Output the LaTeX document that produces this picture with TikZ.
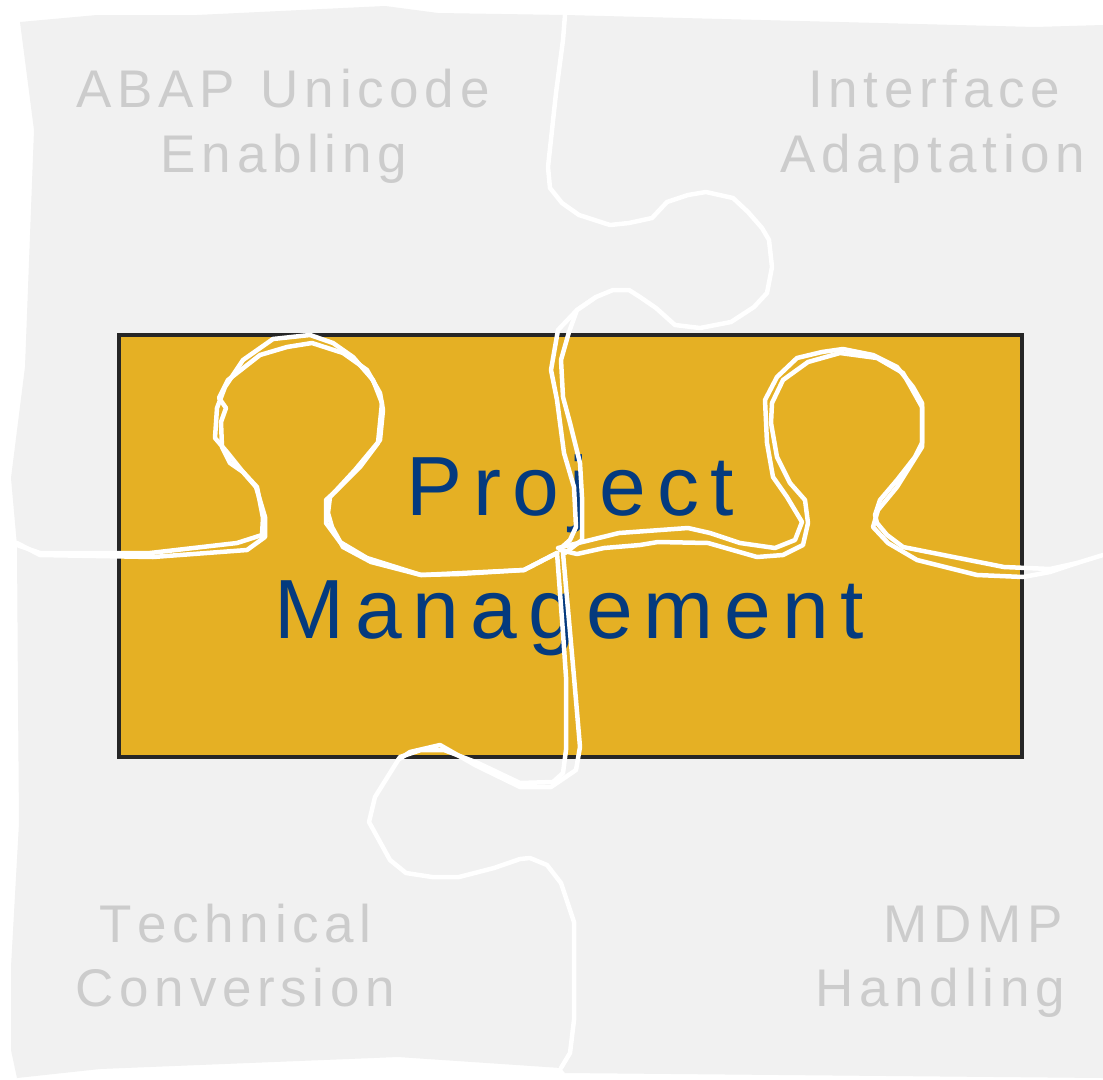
\documentclass[tikz,border=0pt]{standalone}
\usepackage{fontspec}
\setmainfont{Liberation Sans}
\definecolor{bggray}{HTML}{F1F1F1}
\definecolor{gold}{HTML}{E5B024}
\definecolor{border}{HTML}{262626}
\definecolor{txtgray}{HTML}{CCCCCC}
\definecolor{navy}{HTML}{043A7E}
\newdimen\lsp
\def\spaced#1{\spacedi#1\relax\relax}
\def\spacedi#1#2{#1\ifx#2\relax\else\kern\lsp\expandafter\spacedi\expandafter#2\fi}
\newcommand\grayfont{\fontsize{53}{60}\selectfont\lsp=5.7pt\relax}
\newcommand\bluefont{\fontsize{84}{96}\selectfont\lsp=11pt\relax}
\tikzset{
  graytext/.style={text=txtgray, font=\grayfont, inner sep=0pt, anchor=base},
  bluetext/.style={text=navy, font=\bluefont, inner sep=0pt, anchor=base},
  cutline/.style={draw=white, line width=4.5pt, line join=round, line cap=round},
}
\begin{document}
\begin{tikzpicture}[x=1pt,y=-1pt]
\useasboundingbox (0,0) rectangle (1103,1079);
\fill[white] (0,0) rectangle (1103,1079);
% puzzle background
\fill[bggray] (20,22) -- (97,15) -- (197,15) -- (385,6) -- (438,13) -- (565,15) -- (1035,27) -- (1103,25)
  -- (1103,1078) -- (565,1073) -- (561,1068) -- (398,1057) -- (100,1069) -- (17,1078) -- (11,1050)
  -- (11,967) -- (19,823) -- (18,700) -- (17,545) -- (11,478) -- (25,367) -- (34,130) -- cycle;
% central box
\draw[fill=gold, draw=border, line width=4.5pt] (119,335) rectangle (1022,757);
% texts
\node[graytext] (t1a) at (283,107) {\spaced{ABAP~Unicode}};
\node[graytext] (t1b) at (284,172) {\spaced{Enabling}};
\node[graytext] (t2a) at (934,107) {\spaced{Interface}};
\node[graytext] (t2b) at (933,172) {\spaced{Adaptation}};
\node[graytext] (t3a) at (235.5,942) {\spaced{Technical}};
\node[graytext] (t3b) at (235.5,1006) {\spaced{Conversion}};
\node[graytext, anchor=base east] (t4a) at (1063,942) {\spaced{MDMP}};
\node[graytext, anchor=base east] (t4b) at (1065,1006) {\spaced{Handling}};
\node[bluetext] (pm1) at (570,515) {\spaced{Project}};
\node[bluetext] (pm2) at (569,638) {\spaced{Management}};
% horizontal cut, left half
\draw[cutline] (17,545) -- (40,553) -- (150,553) -- (237,543) -- (262,535) -- (263,518) -- (257,487)
  -- (243,472) -- (227,452) -- (215,438) -- (217,408) -- (225,387) -- (243,360) -- (273,339)
  -- (310,335) -- (333,343) -- (353,357) -- (373,380) -- (382,403) -- (378,443) -- (360,467)
  -- (337,490) -- (326,500) -- (326,523) -- (340,542) -- (367,558) -- (421,575) -- (459,574)
  -- (524,570) -- (557,553);
\draw[cutline] (17,543) -- (40,555) -- (153,557) -- (247,550) -- (265,537) -- (265,517) -- (256,487)
  -- (243,472) -- (230,463) -- (222,447) -- (221,422) -- (226,408) -- (219,398) -- (228,380)
  -- (237,373) -- (260,355) -- (287,347) -- (312,343) -- (343,353) -- (367,370) -- (380,393)
  -- (383,410) -- (380,440) -- (355,470) -- (330,497) -- (328,513) -- (332,527) -- (343,547)
  -- (371,562) -- (421,575) -- (524,570) -- (557,553);
% horizontal cut, right half
\draw[cutline] (558,548) -- (619,533) -- (688,528) -- (710,533) -- (740,543) -- (775,548) -- (795,540)
  -- (802,522) -- (787,497) -- (773,477) -- (767,443) -- (765,400) -- (777,377) -- (797,358)
  -- (822,352) -- (843,349) -- (873,355) -- (897,367) -- (913,387) -- (922,403) -- (922,443)
  -- (915,457) -- (897,480) -- (880,500) -- (875,515) -- (877,523) -- (887,535) -- (903,547)
  -- (1004,567) -- (1050,569) -- (1077,563) -- (1103,555);
\draw[cutline] (560,550) -- (577,554) -- (604,548) -- (640,545) -- (658,542) -- (708,543) -- (757,557)
  -- (783,555) -- (803,545) -- (808,523) -- (805,500) -- (790,483) -- (777,457) -- (771,423)
  -- (772,403) -- (783,380) -- (808,362) -- (840,353) -- (877,358) -- (903,373) -- (922,407)
  -- (922,447) -- (897,487) -- (878,510) -- (873,527) -- (888,543) -- (917,560) -- (977,575)
  -- (1023,577) -- (1050,572) -- (1077,563);
% vertical cut, upper half
\draw[cutline] (565,15) -- (563,40) -- (556,93) -- (548,167) -- (550,188) -- (562,203) -- (579,215)
  -- (610,225) -- (629,223) -- (652,218) -- (667,202) -- (688,195) -- (706,192) -- (733,198)
  -- (748,212) -- (762,228) -- (769,240) -- (772,267) -- (767,293) -- (754,307) -- (731,322)
  -- (700,328) -- (675,325) -- (656,308) -- (640,297) -- (629,290) -- (613,290) -- (596,297)
  -- (577,310) -- (558,330) -- (551,370) -- (557,400) -- (564,453) -- (574,487) -- (576,527)
  -- (570,540) -- (561,548);
\draw[cutline] (596,297) -- (577,310) -- (569,332) -- (561,360) -- (563,397) -- (570,423) -- (580,463)
  -- (582,497) -- (582,540) -- (565,553);
% vertical cut, lower half
\draw[cutline] (557,553) -- (563,633) -- (566,677) -- (566,750) -- (563,773) -- (553,782) -- (520,783)
  -- (478,763) -- (444,750) -- (421,750) -- (400,757) -- (375,797) -- (369,822) -- (390,860)
  -- (406,873) -- (432,877) -- (459,877) -- (494,868) -- (520,859) -- (530,858) -- (547,865)
  -- (561,883) -- (574,922) -- (574,1020) -- (570,1053) -- (561,1068);
\draw[cutline] (563,553) -- (574,677) -- (580,747) -- (576,770) -- (551,787) -- (520,787) -- (475,765)
  -- (440,745) -- (410,752) -- (398,760);
\end{tikzpicture}
\end{document}
